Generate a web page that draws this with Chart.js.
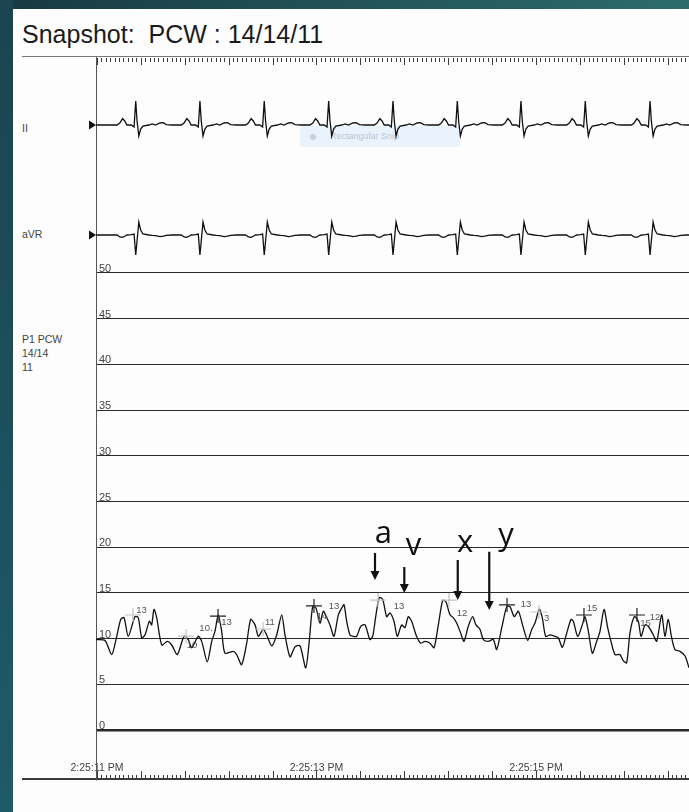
<!DOCTYPE html>
<html>
<head>
<meta charset="utf-8">
<title>Snapshot: PCW</title>
<script src="https://cdn.jsdelivr.net/npm/chart.js@4.4.1/dist/chart.umd.min.js"></script>
<style>
  html, body { margin: 0; padding: 0; }
  body {
    width: 689px; height: 812px; overflow: hidden; position: relative;
    background: linear-gradient(90deg, #173941 0%, #22525a 50%, #2c6c6c 100%);
    font-family: "Liberation Sans", Arial, sans-serif;
  }
  #leftStrip { position: absolute; left: 0; top: 0; width: 13px; height: 812px; background: linear-gradient(180deg, #1a4450, #1f5a69); }
  #panel { position: absolute; left: 13px; top: 9px; right: 0; bottom: 0; background: #fdfdfd; }
  #title { position: absolute; left: 22px; top: 20px; font-size: 25px; color: #1b1b1b; white-space: pre; }
  .rule { position: absolute; left: 22px; right: 0; }
  #topRule { top: 56px; height: 1px; background: #777; }
  #bottomRule { top: 778px; height: 2px; background: #3a3a3a; }
  .lead { position: absolute; left: 22px; font-size: 10.5px; color: #444; line-height: 14px; white-space: pre; }
  #snip { position: absolute; left: 300px; top: 126px; width: 160px; height: 21px; background: #eaf2fb; color: #b9c5d5; font-size: 9px; line-height: 21px; }
  #snip span { display: inline-block; width: 6px; height: 6px; border-radius: 3px; background: #c5d0de; margin: 0 14px 0 10px; vertical-align: middle; }
  canvas { position: absolute; left: 0; top: 0; }
</style>
</head>
<body>
<div id="leftStrip"></div>
<div id="panel"></div>
<div id="title">Snapshot:  PCW : 14/14/11</div>
<div class="rule" id="topRule"></div>
<div class="rule" id="bottomRule"></div>
<div class="lead" style="top:121px">II</div>
<div class="lead" style="top:227px">aVR</div>
<div class="lead" style="top:332px">P1 PCW
14/14
11</div>
<div id="snip"><span></span>Rectangular Snip</div>
<canvas id="chart" width="689" height="812"></canvas>

<script>
// time axis (seconds after 2:25:11 PM)
const X_MIN = -0.009, X_MAX = 5.394;
const tickTimes = [0, 2, 4];
const timeLabels = ['2:25:11 PM', '2:25:13 PM', '2:25:15 PM'];

// pressure axis (mmHg)
const pcwTicks = [0, 5, 10, 15, 20, 25, 30, 35, 40, 45, 50];

// PCW trace
const pcwTime = [
  -0.009, 0.073, 0.134, 0.180, 0.216, 0.246, 0.285, 0.346, 0.376, 0.407,
  0.437, 0.477, 0.498, 0.519, 0.544, 0.590, 0.641, 0.681, 0.732, 0.793,
  0.832, 0.863, 0.923, 0.954, 1.005, 1.045, 1.075, 1.105, 1.136, 1.166,
  1.242, 1.273, 1.318, 1.364, 1.400, 1.440, 1.470, 1.515, 1.546, 1.592,
  1.637, 1.683, 1.713, 1.759, 1.804, 1.850, 1.902, 1.934, 1.965, 1.995,
  2.032, 2.062, 2.093, 2.123, 2.159, 2.199, 2.230, 2.251, 2.275, 2.305,
  2.335, 2.366, 2.403, 2.442, 2.487, 2.512, 2.542, 2.572, 2.603, 2.640,
  2.670, 2.706, 2.736, 2.776, 2.806, 2.836, 2.867, 2.907, 2.949, 2.989,
  3.034, 3.071, 3.110, 3.150, 3.180, 3.216, 3.246, 3.277, 3.314, 3.344,
  3.383, 3.423, 3.453, 3.490, 3.520, 3.565, 3.611, 3.642, 3.688, 3.733,
  3.763, 3.802, 3.839, 3.884, 3.924, 3.961, 3.991, 4.030, 4.057, 4.088,
  4.128, 4.173, 4.203, 4.240, 4.280, 4.319, 4.340, 4.380, 4.422, 4.446,
  4.477, 4.513, 4.553, 4.583, 4.620, 4.653, 4.683, 4.720, 4.765, 4.795,
  4.826, 4.856, 4.896, 4.932, 4.957, 4.993, 5.023, 5.069, 5.100, 5.145,
  5.175, 5.205, 5.236, 5.266, 5.312, 5.358, 5.394
];
const pcwValue = [
  9.9, 9.8, 8.25, 10.25, 12.1, 12.3, 10.25, 12.4, 12.3, 10.1,
  10.4, 11.9, 11.5, 13.2, 12.3, 9.3, 9.7, 9.3, 8.25, 10.25,
  9.9, 9.0, 10.25, 9.7, 7.45, 9.7, 10.8, 12.6, 10.8, 8.4,
  8.6, 8.25, 7.15, 9.5, 12.1, 11.5, 10.25, 11.0, 10.4, 9.2,
  10.4, 12.6, 10.4, 8.0, 9.1, 9.2, 6.8, 9.7, 13.5, 13.35,
  11.7, 13.0, 12.3, 11.5, 10.25, 12.6, 13.35, 13.7, 11.9, 10.4,
  10.25, 10.25, 11.35, 11.5, 9.9, 10.25, 12.6, 14.5, 14.3, 12.4,
  12.8, 11.9, 10.25, 11.5, 11.2, 12.4, 11.9, 10.4, 9.5, 9.7,
  9.5, 9.0, 11.5, 14.2, 14.0, 12.6, 12.3, 11.7, 10.6, 9.7,
  11.35, 12.4, 11.5, 11.0, 9.9, 9.7, 9.9, 8.8, 11.2, 13.5,
  13.5, 12.4, 13.0, 11.2, 9.8, 11.0, 11.7, 13.2, 12.3, 10.25,
  10.4, 10.25, 10.1, 9.05, 10.6, 12.1, 11.9, 10.25, 11.5, 12.4,
  10.8, 8.4, 9.7, 10.8, 13.2, 11.2, 9.7, 8.25, 8.25, 7.6,
  7.35, 10.6, 12.4, 11.9, 10.25, 11.5, 11.35, 10.4, 9.7, 12.6,
  10.25, 12.1, 10.1, 8.8, 8.6, 8.1, 6.8
];

// ECG: R-peak times and one beat shape per lead (mV), as seen on the strip
const rPeaks = [0.353, 0.938, 1.524, 2.111, 2.697, 3.283, 3.863, 4.449, 5.039];
const beatOffset = [-0.25, -0.17, -0.145, -0.12, -0.10, -0.08, -0.04, -0.015, 0, 0.012, 0.028, 0.045, 0.065, 0.12, 0.15, 0.18, 0.22, 0.25, 0.28, 0.33];
const leadII  = [0, 0, 0.1, 0.32, 0.2, 0, 0, -0.1, 1.2, 0.2, -0.55, -0.2, -0.05, 0, 0.05, 0, 0.1, 0.12, 0.02, 0];
const leadAVR = [0, 0, -0.1, -0.12, -0.06, 0, 0.02, 0.05, -1.0, -0.3, 0.65, 0.25, 0.05, 0, -0.02, -0.03, -0.08, -0.06, -0.02, 0];

// wave annotations
const waveLetters = ['a', 'v', 'x', 'y'];
const letterTime  = [2.610, 2.884, 3.353, 3.727];
const letterLevel = [20.46, 19.15, 19.47, 20.24];
const arrowTime = [2.533, 2.800, 3.287, 3.574];
const arrowFrom = [19.37, 17.83, 18.60, 19.50];
const arrowTo   = [16.41, 14.99, 14.22, 13.13];

// measurement cursors on the PCW trace
const markerTime  = [0.328, 0.811, 1.103, 1.513, 1.977, 2.560, 3.207, 3.736, 4.027, 4.437, 4.920];
const markerLevel = [12.58, 10.28, 12.47, 11.05, 13.57, 14.22, 14.22, 13.68, 12.91, 12.58, 12.58];
const markerKind  = ['ghost', 'ghost', 'set', 'ghost', 'set', 'ghost', 'ghost', 'set', 'ghost', 'set', 'set'];
const noteText  = ['13', '10', '10.', '13', '11', '14', '13', '13', '12', '13', '3', '15', '15', '12'];
const noteTime  = [0.405, 0.866, 0.993, 1.180, 1.576, 2.050, 2.159, 2.752, 3.326, 3.909, 4.096, 4.510, 4.998, 5.084];
const noteLevel = [13.13, 9.30, 11.16, 11.76, 11.76, 12.47, 13.57, 13.51, 12.80, 13.79, 12.25, 13.35, 11.71, 12.36];

function buildLead(shape) {
  const pts = [{ x: X_MIN, y: 0 }];
  rPeaks.forEach(r => {
    beatOffset.forEach((o, i) => {
      const t = r + o;
      if (t > X_MIN && t < X_MAX) pts.push({ x: t, y: shape[i] });
    });
  });
  pts.push({ x: X_MAX, y: 0 });
  return pts;
}

const pcwData = pcwTime.map((t, i) => ({ x: t, y: pcwValue[i] }));

const overlay = {
  id: 'overlay',
  afterDatasetsDraw(chart) {
    const { ctx, chartArea: area, scales } = chart;
    const sx = scales.x, sy = scales.y;
    ctx.save();

    // paper rulers along the top and bottom
    ctx.strokeStyle = '#3a3a3a';
    ctx.lineWidth = 1;
    const n = Math.floor(X_MAX / 0.04);
    for (let i = 0; i <= n; i++) {
      const px = Math.round(sx.getPixelForValue(i * 0.04)) + 0.5;
      const major = i % 10 === 0;
      ctx.beginPath();
      ctx.moveTo(px, area.top + 1);
      ctx.lineTo(px, area.top + (major ? 8 : 5));
      ctx.moveTo(px, area.bottom - 1);
      ctx.lineTo(px, area.bottom - (major ? 8 : 4));
      ctx.stroke();
    }

    // lead start markers
    ctx.fillStyle = '#111';
    ['yII', 'yAVR'].forEach(id => {
      const py = scales[id].getPixelForValue(0);
      ctx.beginPath();
      ctx.moveTo(area.left - 7, py - 4.5);
      ctx.lineTo(area.left, py);
      ctx.lineTo(area.left - 7, py + 4.5);
      ctx.closePath();
      ctx.fill();
    });

    // cursors
    markerTime.forEach((t, i) => {
      const px = sx.getPixelForValue(t), py = sy.getPixelForValue(markerLevel[i]);
      ctx.strokeStyle = markerKind[i] === 'set' ? '#222' : '#c4c4c4';
      ctx.lineWidth = 1.2;
      ctx.beginPath();
      ctx.moveTo(px - 8, py); ctx.lineTo(px + 8, py);
      ctx.moveTo(px, py - 7); ctx.lineTo(px, py + 7);
      ctx.stroke();
    });
    ctx.fillStyle = '#555';
    ctx.font = '9.5px "Liberation Sans", Arial, sans-serif';
    ctx.textAlign = 'center';
    ctx.textBaseline = 'middle';
    noteText.forEach((s, i) => {
      ctx.fillText(s, sx.getPixelForValue(noteTime[i]), sy.getPixelForValue(noteLevel[i]));
    });

    // a / v / x / y arrows
    ctx.strokeStyle = '#111';
    ctx.fillStyle = '#111';
    ctx.lineWidth = 2.2;
    arrowTime.forEach((t, i) => {
      const px = sx.getPixelForValue(t);
      const y0 = sy.getPixelForValue(arrowFrom[i]), y1 = sy.getPixelForValue(arrowTo[i]);
      ctx.beginPath();
      ctx.moveTo(px, y0); ctx.lineTo(px, y1 - 8);
      ctx.stroke();
      ctx.beginPath();
      ctx.moveTo(px - 4.5, y1 - 9); ctx.lineTo(px + 4.5, y1 - 9); ctx.lineTo(px, y1);
      ctx.closePath();
      ctx.fill();
    });
    ctx.font = '31px "Open Sans", "DejaVu Sans", sans-serif';
    ctx.textBaseline = 'alphabetic';
    waveLetters.forEach((s, i) => {
      ctx.fillText(s, sx.getPixelForValue(letterTime[i]), sy.getPixelForValue(letterLevel[i]));
    });
    ctx.restore();
  }
};

new Chart(document.getElementById('chart'), {
  type: 'line',
  data: {
    datasets: [
      { label: 'II', data: buildLead(leadII), yAxisID: 'yII', borderColor: '#111', borderWidth: 1.3, pointRadius: 0, tension: 0 },
      { label: 'aVR', data: buildLead(leadAVR), yAxisID: 'yAVR', borderColor: '#111', borderWidth: 1.3, pointRadius: 0, tension: 0 },
      { label: 'P1 PCW', data: pcwData, yAxisID: 'y', borderColor: '#111', borderWidth: 1.3, pointRadius: 0, tension: 0.25 }
    ]
  },
  options: {
    responsive: false,
    animation: false,
    devicePixelRatio: 1,
    layout: { padding: { left: 96, top: 57, right: 0, bottom: 33 } },
    plugins: { legend: { display: false }, tooltip: { enabled: false } },
    scales: {
      x: {
        type: 'linear',
        min: X_MIN,
        max: X_MAX,
        afterBuildTicks: s => { s.ticks = tickTimes.map(v => ({ value: v })); },
        afterFit: s => { s.height = 0; },
        grid: { display: false, drawTicks: false },
        border: { display: false },
        ticks: {
          mirror: true, autoSkip: false, maxRotation: 0, padding: 5,
          color: '#444', font: { size: 10.5, family: '"Liberation Sans", Arial, sans-serif' },
          callback: (v, i) => timeLabels[i]
        }
      },
      y: {
        position: 'left',
        min: -5.36,
        max: 73.63,
        afterBuildTicks: s => { s.ticks = pcwTicks.map(v => ({ value: v })); },
        afterFit: s => { s.width = 0; },
        grid: {
          drawTicks: false,
          color: '#2a2a2a',
          lineWidth: c => (c.tick && c.tick.value === 0 ? 2.5 : 1)
        },
        border: { display: true, color: '#555', width: 1 },
        ticks: {
          mirror: true, padding: 3, labelOffset: -4,
          color: '#444', font: { size: 11, family: '"Liberation Sans", Arial, sans-serif' },
          callback: v => String(v)
        }
      },
      yII: { display: false, min: -32.7, max: 3.4 },
      yAVR: { display: false, min: -27.2, max: 8.9 }
    }
  },
  plugins: [overlay]
});
</script>
</body>
</html>
